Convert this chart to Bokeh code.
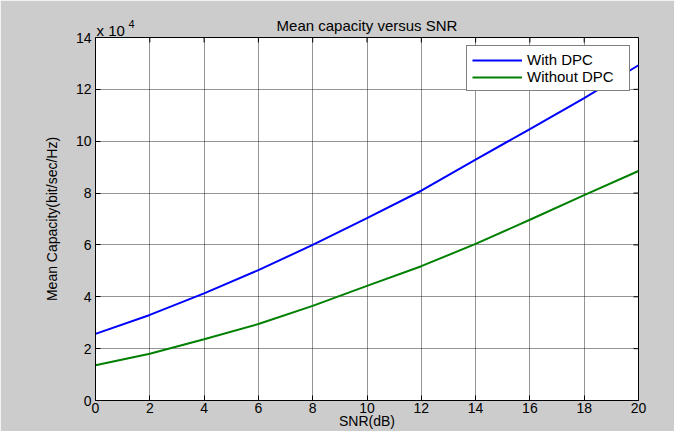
import numpy as np
from bokeh.plotting import figure
from bokeh.models import Range1d, FixedTicker, Label, Legend, LegendItem
from bokeh.embed import file_html
from bokeh.resources import INLINE

# ---- data ----
snr_db = [0, 2, 4, 6, 8, 10, 12, 14, 16, 18, 20]
cap_with_dpc = [25700, 33000, 41300, 50300, 60000, 70300, 80900, 92900, 104700, 116600, 129300]
cap_without_dpc = [13600, 18000, 23600, 29500, 36500, 44200, 51800, 60400, 69700, 79200, 88500]
x_ticks = [0, 2, 4, 6, 8, 10, 12, 14, 16, 18, 20]
y_ticks = [0, 2, 4, 6, 8, 10, 12, 14]
scale = 1e4

title_text = "Mean capacity versus SNR"
xlabel = "SNR(dB)"
ylabel = "Mean Capacity(bit/sec/Hz)"
series_names = ["With DPC", "Without DPC"]
exp_base = "x 10"
exp_power = "4"

FONT = "Liberation Sans"
FS = "14px"
FS_BIG = "15px"

W, H = 674, 431
BL, BR, BT, BB = 95, 36, 37, 31
XMIN, XMAX, YMIN, YMAX = 0, 20, 0, 14

p = figure(width=W, height=H, output_backend="svg", toolbar_location=None,
           x_range=Range1d(XMIN, XMAX), y_range=Range1d(YMIN, YMAX),
           min_border_left=BL, min_border_right=BR, min_border_top=BT, min_border_bottom=BB)
p.border_fill_color = "#cccccc"
p.background_fill_color = "white"
p.outline_line_color = "black"
p.outline_line_width = 1

p.title.text = title_text
p.title.text_font = FONT
p.title.text_font_size = FS_BIG
p.title.text_font_style = "normal"
p.title.text_color = "black"
p.title.align = "center"
p.title.standoff = 8

for ax, ticks in ((p.xaxis[0], x_ticks), (p.yaxis[0], y_ticks)):
    ax.ticker = FixedTicker(ticks=ticks)
    ax.major_tick_in = 5
    ax.major_tick_out = 0
    ax.minor_tick_in = 0
    ax.minor_tick_out = 0
    ax.axis_line_color = "black"
    ax.major_tick_line_color = "black"
    ax.major_label_text_font = FONT
    ax.major_label_text_font_size = FS
    ax.major_label_text_color = "black"
    ax.axis_label_text_font = FONT
    ax.axis_label_text_font_size = FS
    ax.axis_label_text_font_style = "normal"
    ax.axis_label_text_color = "black"

p.xaxis.axis_label = xlabel
p.yaxis.axis_label = ylabel
p.xaxis.major_label_standoff = 2
p.xaxis.axis_label_standoff = -3
p.yaxis.major_label_standoff = 4
p.yaxis.axis_label_standoff = 13

p.xgrid.ticker = FixedTicker(ticks=x_ticks)
p.ygrid.ticker = FixedTicker(ticks=y_ticks)
for g in (p.xgrid[0], p.ygrid[0]):
    g.grid_line_color = "black"
    g.grid_line_alpha = 0.42
    g.grid_line_width = 1

# box ticks on top and right edges (derived from the tick lists)
frame_h = H - BT - BB
frame_w = W - BL - BR
dy = 5 * (YMAX - YMIN) / frame_h
dx = 5 * (XMAX - XMIN) / frame_w
p.segment(x0=x_ticks, y0=[YMAX] * len(x_ticks), x1=x_ticks, y1=[YMAX - dy] * len(x_ticks),
          line_color="black", line_width=1)
p.segment(x0=[XMAX] * len(y_ticks), y0=y_ticks, x1=[XMAX - dx] * len(y_ticks), y1=y_ticks,
          line_color="black", line_width=1)

y1 = np.array(cap_with_dpc) / scale
y2 = np.array(cap_without_dpc) / scale
r1 = p.line(snr_db, y1, line_color="#0000ff", line_width=2)
r2 = p.line(snr_db, y2, line_color="#008000", line_width=2)

legend = Legend(items=[LegendItem(label=series_names[0], renderers=[r1]),
                       LegendItem(label=series_names[1], renderers=[r2])],
                location="top_right")
legend.margin = 8
legend.padding = 5
legend.spacing = 0
legend.glyph_width = 50
legend.glyph_height = 16
legend.label_height = 16
legend.label_width = 97
legend.label_standoff = 5
legend.label_text_font = FONT
legend.label_text_font_size = FS_BIG
legend.label_text_color = "black"
legend.border_line_color = "black"
legend.border_line_width = 1
legend.background_fill_color = "white"
legend.background_fill_alpha = 1
p.add_layout(legend)

# exponent label "x 10^4" (placed in the left side panel so it is not clipped to the frame)
p.add_layout(Label(x=XMIN, y=YMAX, x_offset=1, y_offset=7, text=exp_base,
                   text_font=FONT, text_font_size=FS_BIG, text_align="left",
                   text_baseline="alphabetic", text_color="black"), "left")
p.add_layout(Label(x=XMIN, y=YMAX, x_offset=33, y_offset=14, text=exp_power,
                   text_font=FONT, text_font_size="11px", text_align="left",
                   text_baseline="alphabetic", text_color="black"), "left")

open("out.html", "w").write(file_html(p, INLINE))
